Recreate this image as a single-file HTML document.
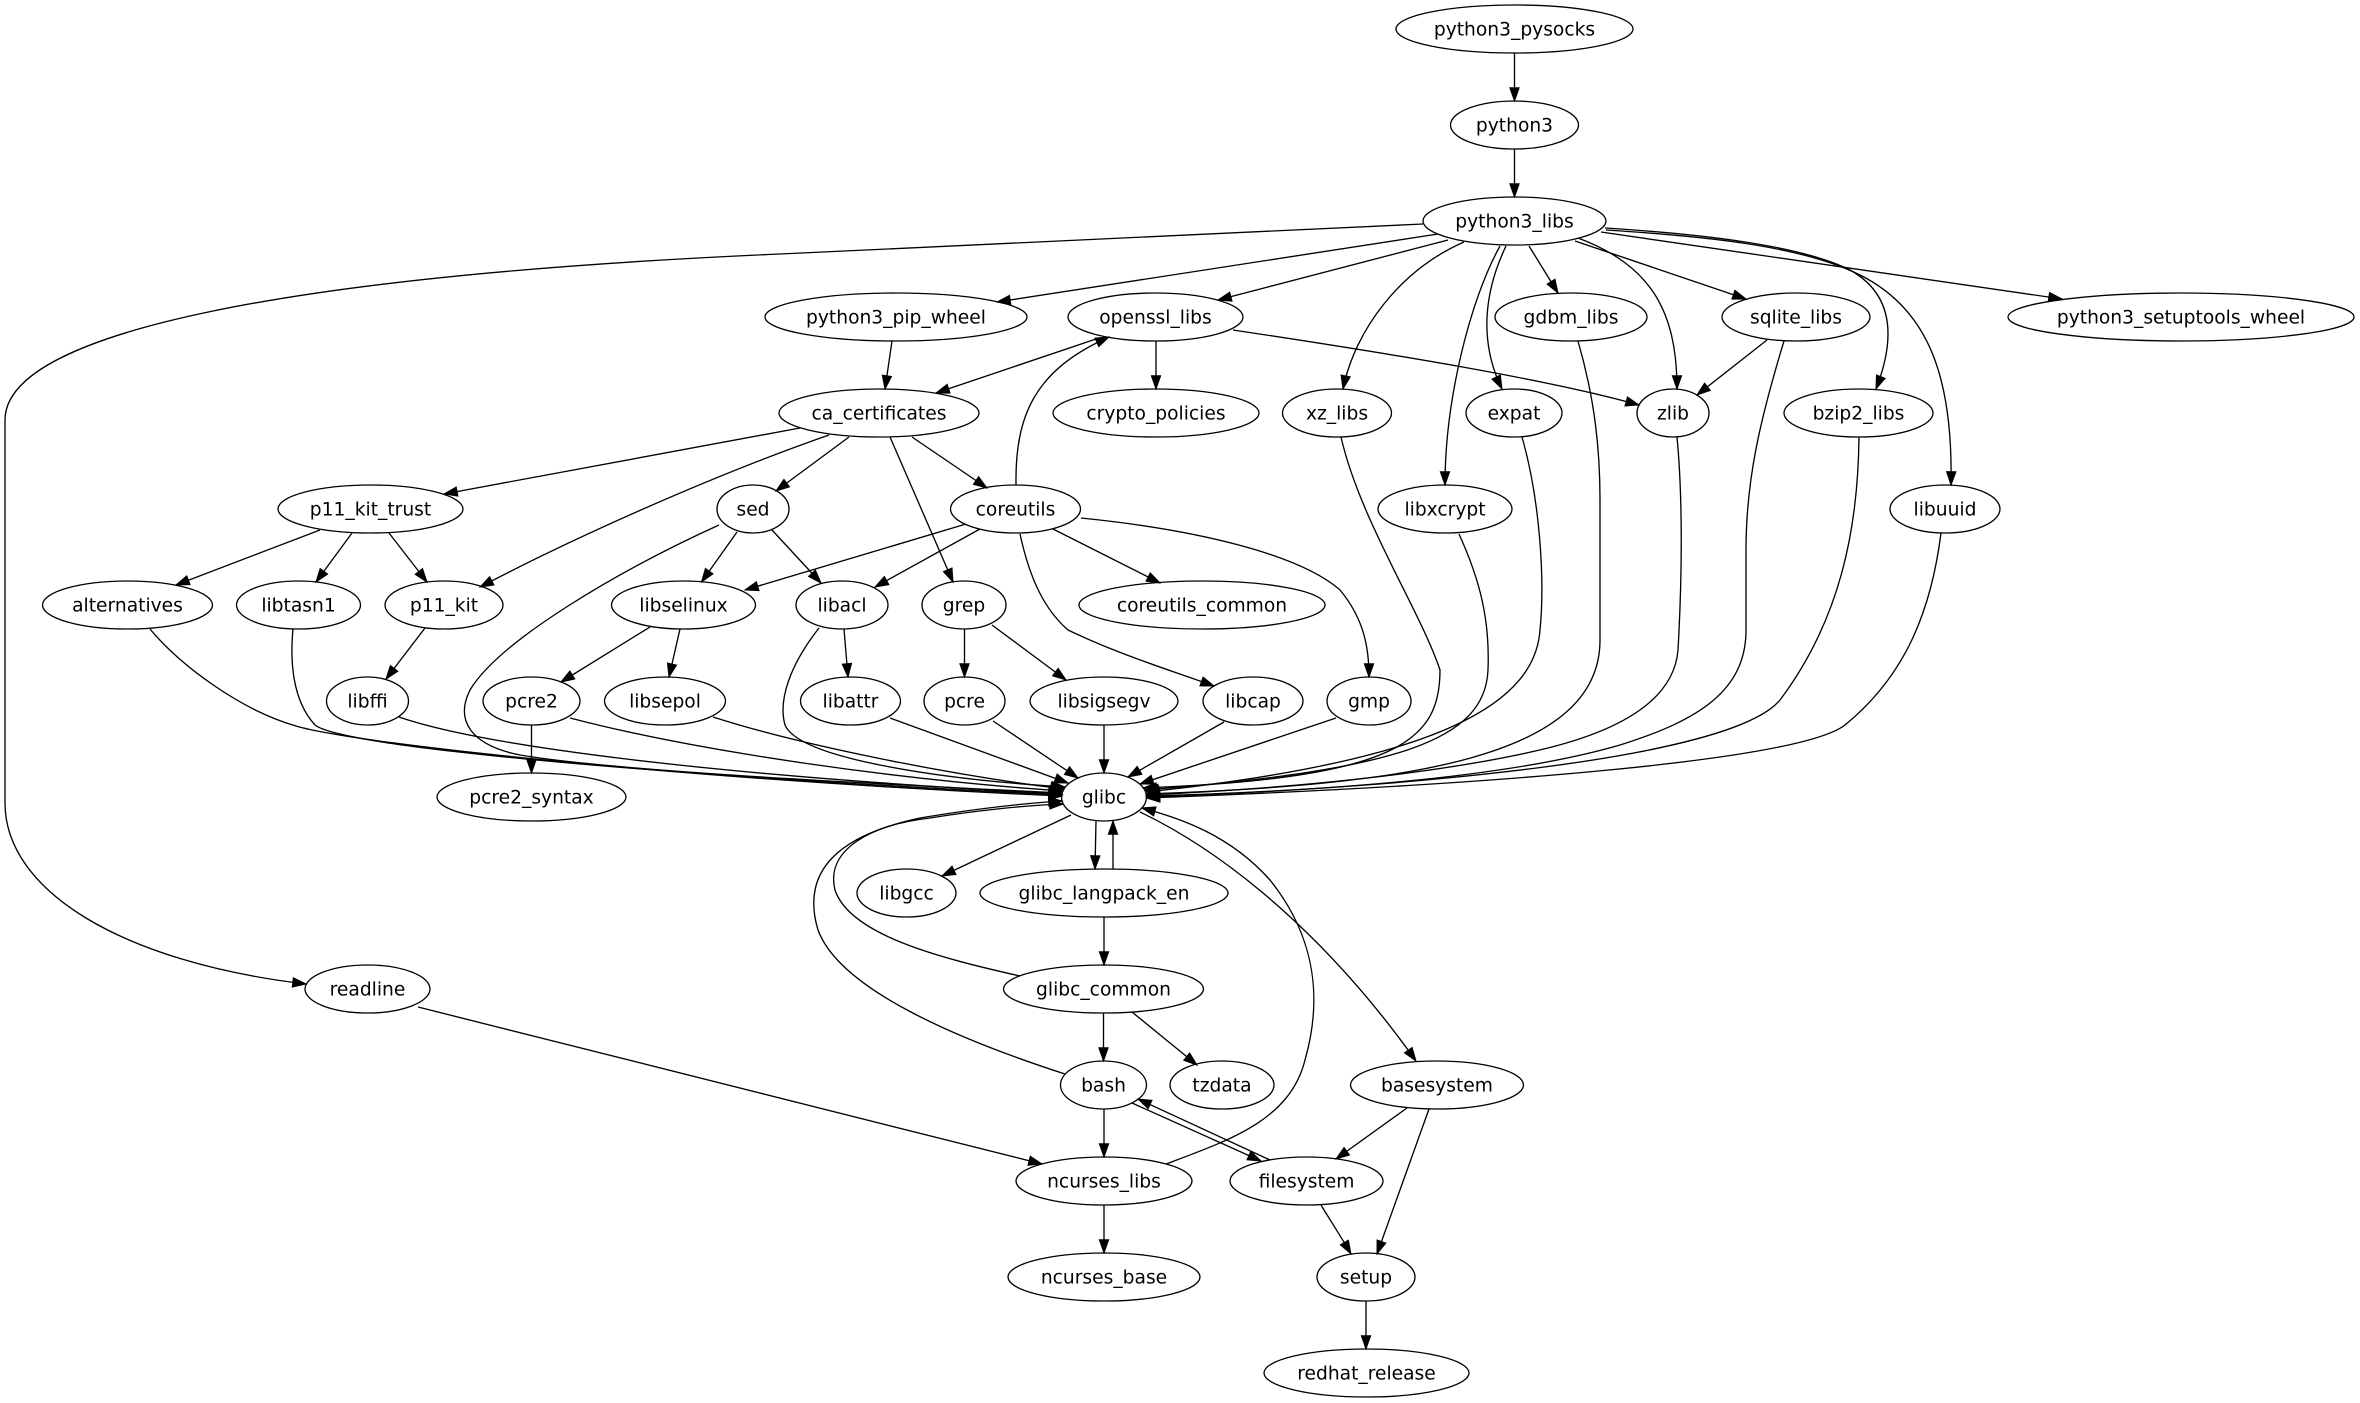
<!DOCTYPE html>
<html><head><meta charset="utf-8"><style>
html,body{margin:0;padding:0;background:#fff;}
svg{display:block;}
text{font-family:"DejaVu Sans","Liberation Sans",sans-serif;font-size:18.67px;text-anchor:middle;fill:#000;}
.e{fill:none;stroke:#000;stroke-width:1.33;marker-end:url(#a);}
ellipse{fill:none;stroke:#000;stroke-width:1.33;}
</style></head><body>
<svg width="2360" height="1403" viewBox="0 0 2360 1403" xmlns="http://www.w3.org/2000/svg">
<defs><marker id="a" markerWidth="14" markerHeight="10" refX="13.3" refY="5" orient="auto" markerUnits="userSpaceOnUse" viewBox="0 0 14 10" overflow="visible"><path d="M0,0.33 L13.3,5 L0,9.67 Z" fill="#000" stroke="#000" stroke-width="1"/></marker></defs>
<rect width="2360" height="1403" fill="#fff"/>
<g>
<path class="e" d="M1514.5,53 L1514.5,101"/>
<path class="e" d="M1514.5,149 L1514.5,197"/>
<path class="e" d="M1423,224 L780,254 C300,275 5,330 5,420 L5,803 C5,890 120,962 306,984"/>
<path class="e" d="M1438,234 L997,302"/>
<path class="e" d="M1448,240 L1218,300"/>
<path class="e" d="M1464,242 C1400,270 1355,330 1343,389"/>
<path class="e" d="M1500,246 C1470,300 1445,400 1445,485"/>
<path class="e" d="M1506,246 C1485,290 1478,340 1502,389"/>
<path class="e" d="M1529,246 L1558,293"/>
<path class="e" d="M1578,238 C1650,265 1677,310 1677,389"/>
<path class="e" d="M1575,241 L1746,299"/>
<path class="e" d="M1605,228 C1700,234 1800,245 1850,270 C1895,295 1895,340 1876,389"/>
<path class="e" d="M1606,230 C1700,236 1800,245 1860,275 C1930,310 1953,380 1951,485"/>
<path class="e" d="M1601,232 L2062,299"/>
<path class="e" d="M892,341 L885,389"/>
<path class="e" d="M1096,339 L936,393"/>
<path class="e" d="M1156,341 L1156,389"/>
<path class="e" d="M1233,330 C1400,355 1550,380 1639,405"/>
<path class="e" d="M1016,485 C1015,415 1035,370 1109,337"/>
<path class="e" d="M1767,340 L1697,395"/>
<path class="e" d="M800,428 L444,494"/>
<path class="e" d="M829,435 C700,480 560,545 480,587"/>
<path class="e" d="M849,437 L776,491"/>
<path class="e" d="M890,437 L953,582"/>
<path class="e" d="M912,437 L987,488"/>
<path class="e" d="M320,530 L176,585"/>
<path class="e" d="M352,533 L316,582"/>
<path class="e" d="M389,533 L427,582"/>
<path class="e" d="M737,532 L701.5,582"/>
<path class="e" d="M772,530 L821,583"/>
<path class="e" d="M719,525 C620,570 500,640 470,690 C455,720 470,745 520,755 C620,772 900,785 1062,793"/>
<path class="e" d="M966,524 L745,590"/>
<path class="e" d="M980,529 L875,587"/>
<path class="e" d="M1053,529 L1160,583"/>
<path class="e" d="M1020,534 C1030,580 1045,610 1068,630 C1120,655 1170,670 1214,686"/>
<path class="e" d="M1081,518 C1200,530 1300,555 1340,590 C1365,620 1369,650 1369,677"/>
<path class="e" d="M425,628 L386,679"/>
<path class="e" d="M650,627 L561,682"/>
<path class="e" d="M680,629 L669,677"/>
<path class="e" d="M844,629 L848,677"/>
<path class="e" d="M819,628 C790,665 778,700 785,725 C800,760 950,780 1065,787"/>
<path class="e" d="M964.5,629 L964.5,677"/>
<path class="e" d="M992,625 L1066,680"/>
<path class="e" d="M150,629 C180,665 240,710 296,726 C360,745 700,780 1062,796"/>
<path class="e" d="M293,629 C290,660 292,700 315,725 C340,745 600,772 1062,795"/>
<path class="e" d="M399,717 C480,745 700,775 1062,794"/>
<path class="e" d="M570,718 C700,752 900,780 1063,791"/>
<path class="e" d="M531.5,725 L531.5,773"/>
<path class="e" d="M713,717 C800,745 950,775 1064,789"/>
<path class="e" d="M890,718 L1068,783"/>
<path class="e" d="M993,721 L1078,778"/>
<path class="e" d="M1104,725 L1104,773"/>
<path class="e" d="M1224,722 L1128,777"/>
<path class="e" d="M1336,718 L1140,784"/>
<path class="e" d="M1341,437 C1360,520 1420,610 1440,670 C1440,740 1400,778 1143,788"/>
<path class="e" d="M1459,534 C1480,580 1490,620 1488,670 C1485,740 1400,770 1145,790"/>
<path class="e" d="M1522,437 C1540,500 1545,580 1540,630 C1535,700 1450,760 1146,792"/>
<path class="e" d="M1578,341 C1595,400 1600,450 1600,500 L1600,640 C1600,760 1400,785 1146.5,794"/>
<path class="e" d="M1677,437 C1683,500 1682,580 1678,650 C1674,700 1620,730 1548,748 C1450,772 1300,788 1146.5,795"/>
<path class="e" d="M1784,341 C1760,420 1746,480 1746,550 L1746,630 C1746,690 1700,720 1620,745 C1500,780 1300,792 1146.5,796"/>
<path class="e" d="M1859,437 C1858,530 1840,620 1780,700 C1730,760 1400,788 1146.5,797"/>
<path class="e" d="M1941,533 C1930,620 1900,680 1845,725 C1800,760 1500,785 1146.5,798"/>
<path class="e" d="M1071,815 L942,876"/>
<path class="e" d="M1096,821 L1095,869"/>
<path class="e" d="M1113,869 L1113,821"/>
<path class="e" d="M1104,917 L1104,965"/>
<path class="e" d="M1020,976 C940,958 850,935 835,890 C825,850 870,825 930,818 C980,810 1030,805 1063,804"/>
<path class="e" d="M1065,1074 C960,1040 840,990 818,930 C800,870 840,835 920,818 C980,808 1030,803 1062,801"/>
<path class="e" d="M1103.5,1013 L1103.5,1061"/>
<path class="e" d="M1132,1012 L1197,1065"/>
<path class="e" d="M1104,1109 L1104,1157"/>
<path class="e" d="M1132,1103 L1261,1161"/>
<path class="e" d="M1270,1160 L1138,1099"/>
<path class="e" d="M1166,1164 C1230,1140 1290,1120 1305,1060 C1325,990 1310,930 1270,880 C1230,835 1180,818 1142,808"/>
<path class="e" d="M1104,1205 L1104,1253"/>
<path class="e" d="M418,1007 L1042,1164"/>
<path class="e" d="M1140,812 C1230,855 1330,940 1416,1061"/>
<path class="e" d="M1407,1108 L1336,1159"/>
<path class="e" d="M1429,1109 L1377,1254"/>
<path class="e" d="M1321,1205 C1330,1220 1340,1235 1351,1254"/>
<path class="e" d="M1366,1301 L1366,1349"/>
</g>
<g>
<ellipse cx="1514.5" cy="29" rx="118.5" ry="24"/><text x="1514.5" y="35.5">python3_pysocks</text>
<ellipse cx="1514.5" cy="125" rx="64" ry="24"/><text x="1514.5" y="131.5">python3</text>
<ellipse cx="1514.5" cy="221" rx="91.5" ry="24"/><text x="1514.5" y="227.5">python3_libs</text>
<ellipse cx="896" cy="317" rx="131" ry="24"/><text x="896" y="323.5">python3_pip_wheel</text>
<ellipse cx="1155.5" cy="317" rx="87.5" ry="24"/><text x="1155.5" y="323.5">openssl_libs</text>
<ellipse cx="1571" cy="317" rx="76" ry="24"/><text x="1571" y="323.5">gdbm_libs</text>
<ellipse cx="1796" cy="317" rx="74" ry="24"/><text x="1796" y="323.5">sqlite_libs</text>
<ellipse cx="2181" cy="317" rx="173" ry="24"/><text x="2181" y="323.5">python3_setuptools_wheel</text>
<ellipse cx="879" cy="413" rx="100" ry="24"/><text x="879" y="419.5">ca_certificates</text>
<ellipse cx="1156" cy="413" rx="103" ry="24"/><text x="1156" y="419.5">crypto_policies</text>
<ellipse cx="1337" cy="413" rx="54.5" ry="24"/><text x="1337" y="419.5">xz_libs</text>
<ellipse cx="1514" cy="413" rx="48" ry="24"/><text x="1514" y="419.5">expat</text>
<ellipse cx="1673" cy="413" rx="36" ry="24"/><text x="1673" y="419.5">zlib</text>
<ellipse cx="1858.5" cy="413" rx="74.5" ry="24"/><text x="1858.5" y="419.5">bzip2_libs</text>
<ellipse cx="370.5" cy="509" rx="92.5" ry="24"/><text x="370.5" y="515.5">p11_kit_trust</text>
<ellipse cx="753" cy="509" rx="36" ry="24"/><text x="753" y="515.5">sed</text>
<ellipse cx="1015.5" cy="509" rx="65" ry="24"/><text x="1015.5" y="515.5">coreutils</text>
<ellipse cx="1445" cy="509" rx="67" ry="24"/><text x="1445" y="515.5">libxcrypt</text>
<ellipse cx="1945" cy="509" rx="55" ry="24"/><text x="1945" y="515.5">libuuid</text>
<ellipse cx="127.5" cy="605" rx="85" ry="24"/><text x="127.5" y="611.5">alternatives</text>
<ellipse cx="298.5" cy="605" rx="62" ry="24"/><text x="298.5" y="611.5">libtasn1</text>
<ellipse cx="444" cy="605" rx="59" ry="24"/><text x="444" y="611.5">p11_kit</text>
<ellipse cx="683.5" cy="605" rx="72" ry="24"/><text x="683.5" y="611.5">libselinux</text>
<ellipse cx="842" cy="605" rx="46" ry="24"/><text x="842" y="611.5">libacl</text>
<ellipse cx="964" cy="605" rx="42" ry="24"/><text x="964" y="611.5">grep</text>
<ellipse cx="1202" cy="605" rx="123" ry="24"/><text x="1202" y="611.5">coreutils_common</text>
<ellipse cx="367.5" cy="701" rx="41" ry="24"/><text x="367.5" y="707.5">libffi</text>
<ellipse cx="531.5" cy="701" rx="48.5" ry="24"/><text x="531.5" y="707.5">pcre2</text>
<ellipse cx="665" cy="701" rx="60.5" ry="24"/><text x="665" y="707.5">libsepol</text>
<ellipse cx="850.5" cy="701" rx="50" ry="24"/><text x="850.5" y="707.5">libattr</text>
<ellipse cx="964.5" cy="701" rx="40.5" ry="24"/><text x="964.5" y="707.5">pcre</text>
<ellipse cx="1104" cy="701" rx="74" ry="24"/><text x="1104" y="707.5">libsigsegv</text>
<ellipse cx="1253" cy="701" rx="50" ry="24"/><text x="1253" y="707.5">libcap</text>
<ellipse cx="1369" cy="701" rx="42" ry="24"/><text x="1369" y="707.5">gmp</text>
<ellipse cx="531.5" cy="797" rx="94.5" ry="24"/><text x="531.5" y="803.5">pcre2_syntax</text>
<ellipse cx="1104" cy="797" rx="42.5" ry="24"/><text x="1104" y="803.5">glibc</text>
<ellipse cx="906.5" cy="893" rx="49.5" ry="24"/><text x="906.5" y="899.5">libgcc</text>
<ellipse cx="1104" cy="893" rx="124" ry="24"/><text x="1104" y="899.5">glibc_langpack_en</text>
<ellipse cx="367.5" cy="989" rx="62.5" ry="24"/><text x="367.5" y="995.5">readline</text>
<ellipse cx="1103.5" cy="989" rx="100" ry="24"/><text x="1103.5" y="995.5">glibc_common</text>
<ellipse cx="1103.5" cy="1085" rx="43" ry="24"/><text x="1103.5" y="1091.5">bash</text>
<ellipse cx="1222" cy="1085" rx="52" ry="24"/><text x="1222" y="1091.5">tzdata</text>
<ellipse cx="1437" cy="1085" rx="86.5" ry="24"/><text x="1437" y="1091.5">basesystem</text>
<ellipse cx="1104" cy="1181" rx="88" ry="24"/><text x="1104" y="1187.5">ncurses_libs</text>
<ellipse cx="1306.5" cy="1181" rx="76.5" ry="24"/><text x="1306.5" y="1187.5">filesystem</text>
<ellipse cx="1104" cy="1277" rx="96" ry="24"/><text x="1104" y="1283.5">ncurses_base</text>
<ellipse cx="1366" cy="1277" rx="49" ry="24"/><text x="1366" y="1283.5">setup</text>
<ellipse cx="1366.5" cy="1373" rx="102.5" ry="24"/><text x="1366.5" y="1379.5">redhat_release</text>
</g>
</svg>
</body></html>
